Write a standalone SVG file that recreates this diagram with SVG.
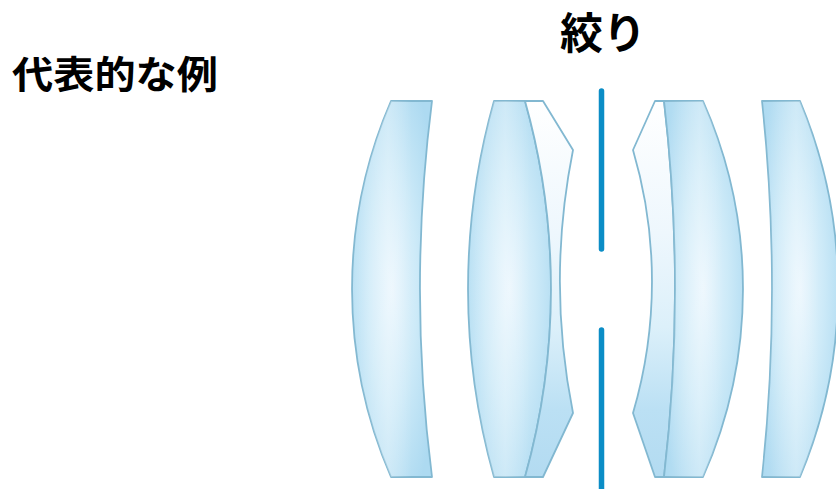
<svg xmlns="http://www.w3.org/2000/svg" width="836" height="489" viewBox="0 0 836 489">
  <defs>
    <!-- glass body: pale centre, deeper blue toward the rims -->
    <radialGradient id="glass" cx="0.5" cy="0.5" r="0.62">
      <stop offset="0" stop-color="#e8f5fd"/>
      <stop offset="0.5" stop-color="#cdeaf8"/>
      <stop offset="1" stop-color="#addaf1"/>
    </radialGradient>
    <!-- vertical sheen laid over each element -->
    <linearGradient id="sheen" x1="0" y1="0" x2="1" y2="0">
      <stop offset="0" stop-color="#ffffff" stop-opacity="0"/>
      <stop offset="0.45" stop-color="#ffffff" stop-opacity="0.3"/>
      <stop offset="0.75" stop-color="#ffffff" stop-opacity="0"/>
      <stop offset="1" stop-color="#ffffff" stop-opacity="0"/>
    </linearGradient>
    <!-- thin negative elements next to the stop: white at top, blue lower down -->
    <linearGradient id="flint" x1="0" y1="0" x2="0" y2="1">
      <stop offset="0" stop-color="#ffffff"/>
      <stop offset="0.35" stop-color="#eef7fd"/>
      <stop offset="0.6" stop-color="#dcf0fa"/>
      <stop offset="0.82" stop-color="#bbe0f4"/>
      <stop offset="1" stop-color="#b3dbf1"/>
    </linearGradient>
  </defs>
  <style>
    .lens { fill: url(#glass); stroke: #82b8d1; stroke-width: 1.8; stroke-linejoin: round; }
    .neg { fill: url(#flint); stroke: #82b8d1; stroke-width: 1.8; stroke-linejoin: round; }
    .sheen { fill: url(#sheen); stroke: none; }
    .stop { stroke: #0b8dc6; stroke-width: 5.5; stroke-linecap: round; fill: none; }
    .label { font-family: "Noto Sans CJK JP", "Noto Sans", sans-serif; font-weight: 700; fill: #000000; }
  </style>

  <!-- titles -->
  <text class="label" x="12" y="88" font-size="38" textLength="206" lengthAdjust="spacingAndGlyphs">代表的な例</text>
  <text class="label" x="560" y="49" font-size="43">絞り</text>

  <!-- front meniscus -->
  <g id="lens1">
    <path class="lens" d="M391,101 L432,101 A1479,1479 0 0 0 432,477 L391,477 A473,473 0 0 1 391,101 Z"/>
    <path class="sheen" d="M391,101 L432,101 A1479,1479 0 0 0 432,477 L391,477 A473,473 0 0 1 391,101 Z"/>
  </g>

  <!-- front cemented doublet -->
  <g id="lens2">
    <path class="lens" d="M494,101 L525,101 A693,693 0 0 1 525,477 L494,477 A693,693 0 0 1 494,101 Z"/>
    <path class="sheen" d="M494,101 L525,101 A693,693 0 0 1 525,477 L494,477 A693,693 0 0 1 494,101 Z"/>
    <path class="neg" d="M525,101 L543,101 L573,150 A672,672 0 0 0 573,413 L543,477 L525,477 A693,693 0 0 0 525,101 Z"/>
  </g>

  <!-- aperture stop -->
  <g id="stop">
    <line class="stop" x1="601.5" y1="91" x2="601.5" y2="249"/>
    <line class="stop" x1="601.5" y1="330" x2="601.5" y2="495"/>
  </g>

  <!-- rear cemented doublet -->
  <g id="lens3">
    <path class="neg" d="M655,101 L664,101 A1612,1612 0 0 1 664,477 L655,477 L633,413 A465,465 0 0 0 633,150 Z"/>
    <path class="lens" d="M664,101 L703,101 A462,462 0 0 1 703,477 L664,477 A1612,1612 0 0 0 664,101 Z"/>
    <path class="sheen" d="M664,101 L703,101 A462,462 0 0 1 703,477 L664,477 A1612,1612 0 0 0 664,101 Z"/>
  </g>

  <!-- rear meniscus -->
  <g id="lens4">
    <path class="lens" d="M762,101 L800,101 A484,484 0 0 1 800,477 L762,477 A1772,1772 0 0 0 762,101 Z"/>
    <path class="sheen" d="M762,101 L800,101 A484,484 0 0 1 800,477 L762,477 A1772,1772 0 0 0 762,101 Z"/>
  </g>
</svg>
